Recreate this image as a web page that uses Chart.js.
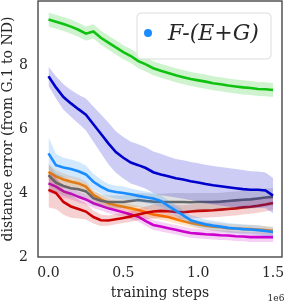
<!DOCTYPE html>
<html>
<head>
<meta charset="utf-8">
<script src="https://cdn.jsdelivr.net/npm/chart.js@4.4.1/dist/chart.umd.min.js"></script>
<style>
  html, body { margin: 0; padding: 0; background: #fff; }
  #wrap { width: 286px; height: 304px; }
</style>
</head>
<body>
<div id="wrap"><canvas id="errChart" width="286" height="304"></canvas></div>
<script>
// training steps, in units of 1e6
const steps = [0, 0.05, 0.1, 0.15, 0.2, 0.25, 0.3, 0.35, 0.4, 0.45, 0.5, 0.55, 0.6, 0.65, 0.7, 0.75,
  0.8, 0.85, 0.9, 0.95, 1.0, 1.05, 1.1, 1.15, 1.2, 1.25, 1.3, 1.35, 1.4, 1.45, 1.5];
const xTicks = [0, 0.5, 1.0, 1.5];
const yTicks = [2, 4, 6, 8];

// mean curves
const greenMean = [9.42, 9.35, 9.28, 9.2, 9.1, 8.98, 9.05, 8.85, 8.7, 8.55, 8.4, 8.28, 8.12, 8.02, 7.9, 7.82,
  7.75, 7.68, 7.62, 7.56, 7.52, 7.48, 7.43, 7.4, 7.36, 7.33, 7.3, 7.28, 7.25, 7.24, 7.22];
const navyMean = [7.65, 7.3, 7.0, 6.8, 6.62, 6.45, 6.15, 5.85, 5.55, 5.28, 5.1, 4.95, 4.87, 4.78, 4.65, 4.58,
  4.52, 4.46, 4.42, 4.37, 4.33, 4.28, 4.24, 4.21, 4.18, 4.15, 4.12, 4.1, 4.1, 4.08, 3.92];
const skyMean = [5.24, 4.87, 4.8, 4.75, 4.68, 4.58, 4.35, 4.2, 4.08, 4.03, 4.0, 3.96, 3.91, 3.87, 3.83, 3.75,
  3.6, 3.45, 3.3, 3.15, 3.08, 3.02, 2.98, 2.95, 2.91, 2.89, 2.87, 2.86, 2.84, 2.81, 2.78];
const grayMean = [4.56, 4.32, 4.22, 4.15, 4.12, 4.05, 3.84, 3.76, 3.72, 3.72, 3.72, 3.75, 3.78, 3.75, 3.73, 3.72,
  3.72, 3.72, 3.72, 3.71, 3.72, 3.72, 3.72, 3.73, 3.75, 3.77, 3.79, 3.8, 3.83, 3.86, 3.88];
const redMean = [4.1, 4.0, 3.72, 3.58, 3.5, 3.42, 3.25, 3.15, 3.14, 3.18, 3.22, 3.27, 3.33, 3.38, 3.42, 3.44,
  3.43, 3.41, 3.4, 3.42, 3.44, 3.45, 3.46, 3.48, 3.5, 3.52, 3.55, 3.57, 3.6, 3.64, 3.69];
const orangeMean = [4.66, 4.52, 4.42, 4.35, 4.3, 4.2, 3.94, 3.8, 3.68, 3.62, 3.57, 3.52, 3.47, 3.4, 3.33, 3.29,
  3.25, 3.18, 3.12, 3.06, 3.02, 2.98, 2.95, 2.93, 2.9, 2.89, 2.88, 2.87, 2.86, 2.84, 2.82];
const magentaMean = [4.3, 4.2, 4.05, 3.98, 3.88, 3.8, 3.68, 3.6, 3.52, 3.46, 3.4, 3.33, 3.26, 3.12, 3.0, 2.95,
  2.9, 2.85, 2.8, 2.75, 2.73, 2.71, 2.7, 2.68, 2.67, 2.65, 2.64, 2.62, 2.62, 2.62, 2.62];

// half-width of the shaded bands
const greenSpread = [0.22, 0.22, 0.22, 0.22, 0.22, 0.22, 0.22, 0.22, 0.22, 0.22, 0.22, 0.22, 0.22, 0.22, 0.22, 0.22,
  0.22, 0.22, 0.22, 0.22, 0.22, 0.22, 0.22, 0.22, 0.22, 0.22, 0.22, 0.22, 0.22, 0.22, 0.22];
const navySpread = [0.3, 0.35, 0.4, 0.42, 0.45, 0.5, 0.55, 0.6, 0.65, 0.65, 0.65, 0.65, 0.65, 0.65, 0.65, 0.65,
  0.62, 0.6, 0.6, 0.6, 0.6, 0.6, 0.6, 0.6, 0.6, 0.6, 0.6, 0.58, 0.57, 0.56, 0.55];
const skySpread = [0.5, 0.35, 0.3, 0.3, 0.3, 0.28, 0.25, 0.22, 0.2, 0.2, 0.2, 0.18, 0.18, 0.18, 0.18, 0.18,
  0.17, 0.17, 0.16, 0.16, 0.16, 0.15, 0.15, 0.15, 0.15, 0.15, 0.15, 0.15, 0.15, 0.15, 0.15];
const graySpread = [0.35, 0.3, 0.3, 0.28, 0.26, 0.25, 0.22, 0.2, 0.2, 0.2, 0.2, 0.22, 0.22, 0.24, 0.25, 0.26,
  0.27, 0.28, 0.28, 0.28, 0.28, 0.28, 0.28, 0.28, 0.28, 0.28, 0.28, 0.28, 0.28, 0.28, 0.28];
const redSpread = [0.55, 0.5, 0.4, 0.35, 0.3, 0.25, 0.2, 0.18, 0.16, 0.16, 0.16, 0.17, 0.18, 0.2, 0.22, 0.22,
  0.22, 0.22, 0.22, 0.22, 0.22, 0.22, 0.22, 0.22, 0.22, 0.22, 0.22, 0.22, 0.22, 0.22, 0.22];
const orangeSpread = [0.25, 0.2, 0.2, 0.18, 0.18, 0.16, 0.15, 0.14, 0.13, 0.13, 0.13, 0.13, 0.13, 0.13, 0.13, 0.13,
  0.13, 0.13, 0.13, 0.13, 0.13, 0.13, 0.13, 0.13, 0.13, 0.13, 0.13, 0.13, 0.13, 0.13, 0.13];
const magentaSpread = [0.3, 0.25, 0.2, 0.18, 0.17, 0.16, 0.15, 0.15, 0.15, 0.15, 0.15, 0.15, 0.15, 0.15, 0.15, 0.15,
  0.15, 0.15, 0.15, 0.15, 0.15, 0.15, 0.15, 0.15, 0.15, 0.15, 0.15, 0.15, 0.15, 0.15, 0.15];

const legendLabel = 'F-(E+G)';

// lower edge, upper edge (filled to lower) and the mean line
function curve(mean, spread, color, shade, label) {
  const edge = { borderWidth: 0, borderColor: 'rgba(0,0,0,0)', pointRadius: 0 };
  return [
    { ...edge, data: mean.map((v, i) => v - spread[i]), fill: false },
    { ...edge, data: mean.map((v, i) => v + spread[i]), fill: '-1', backgroundColor: shade },
    { label: label || '', data: mean, borderColor: color, borderWidth: 2.6, pointRadius: 0, fill: false }
  ];
}

const datasets = [
  ...curve(greenMean, greenSpread, '#11c211', 'rgba(17,194,17,0.2)'),
  ...curve(navyMean, navySpread, '#0000cc', 'rgba(0,0,204,0.2)'),
  ...curve(skyMean, skySpread, '#1a8cff', 'rgba(26,140,255,0.2)', legendLabel),
  ...curve(grayMean, graySpread, '#676767', 'rgba(103,103,103,0.2)'),
  ...curve(redMean, redSpread, '#cc0000', 'rgba(204,0,0,0.18)'),
  ...curve(orangeMean, orangeSpread, '#ff8000', 'rgba(255,128,0,0.2)'),
  ...curve(magentaMean, magentaSpread, '#cc00cc', 'rgba(204,0,204,0.18)')
];

const serif = '"DejaVu Serif", "Liberation Serif", serif';

// box frame, legend and the 1e6 offset label
const extras = {
  id: 'extras',
  afterDraw(chart) {
    const { ctx, chartArea: a } = chart;
    ctx.save();
    ctx.strokeStyle = '#3a3a3a';
    ctx.lineWidth = 1.3;
    ctx.strokeRect(a.left, a.top, a.right - a.left, a.bottom - a.top);

    const bx = 137, by = 13, bw = 134, bh = 46;
    ctx.beginPath();
    ctx.roundRect(bx, by, bw, bh, 4);
    ctx.fillStyle = 'rgba(255,255,255,0.85)';
    ctx.fill();
    ctx.strokeStyle = '#dcdcdc';
    ctx.lineWidth = 1;
    ctx.stroke();

    ctx.beginPath();
    ctx.arc(148, 33, 4, 0, Math.PI * 2);
    ctx.fillStyle = '#1a8cff';
    ctx.fill();

    ctx.fillStyle = '#262626';
    ctx.font = 'italic 22px ' + serif;
    ctx.textAlign = 'left';
    ctx.textBaseline = 'middle';
    ctx.fillText(legendLabel, 168, 34);

    ctx.font = '9px ' + serif;
    ctx.textAlign = 'center';
    ctx.fillText('1e6', 276, 299);
    ctx.restore();
  }
};

new Chart(document.getElementById('errChart'), {
  type: 'line',
  data: { labels: steps, datasets: datasets },
  options: {
    responsive: false,
    animation: false,
    layout: { padding: { top: 1, right: 4, left: 0, bottom: 0 } },
    plugins: {
      legend: { display: false },
      tooltip: { enabled: false }
    },
    scales: {
      x: {
        type: 'linear',
        min: -0.07,
        max: 1.56,
        grid: { display: false, drawTicks: false },
        border: { display: false },
        afterBuildTicks: (s) => { s.ticks = xTicks.map(v => ({ value: v })); },
        afterFit: (s) => { s.height = 47; s.paddingLeft = 0; s.paddingRight = 0; },
        ticks: {
          padding: 8,
          color: '#262626',
          font: { family: serif, size: 14 },
          callback: (v) => v.toFixed(1)
        },
        title: {
          display: true,
          text: 'training steps',
          color: '#262626',
          font: { family: serif, size: 14 },
          padding: { top: 0, bottom: 2 }
        }
      },
      y: {
        min: 2,
        max: 10,
        grid: { display: false, drawTicks: false },
        border: { display: false },
        afterBuildTicks: (s) => { s.ticks = yTicks.map(v => ({ value: v })); },
        afterFit: (s) => { s.width = 38; s.paddingTop = 0; s.paddingBottom = 0; },
        ticks: {
          padding: 10,
          color: '#262626',
          font: { family: serif, size: 14 }
        },
        title: {
          display: true,
          text: 'distance error (from G.1 to ND)',
          color: '#262626',
          font: { family: serif, size: 14 },
          padding: { top: 0, bottom: 0 }
        }
      }
    }
  },
  plugins: [extras]
});
</script>
</body>
</html>
